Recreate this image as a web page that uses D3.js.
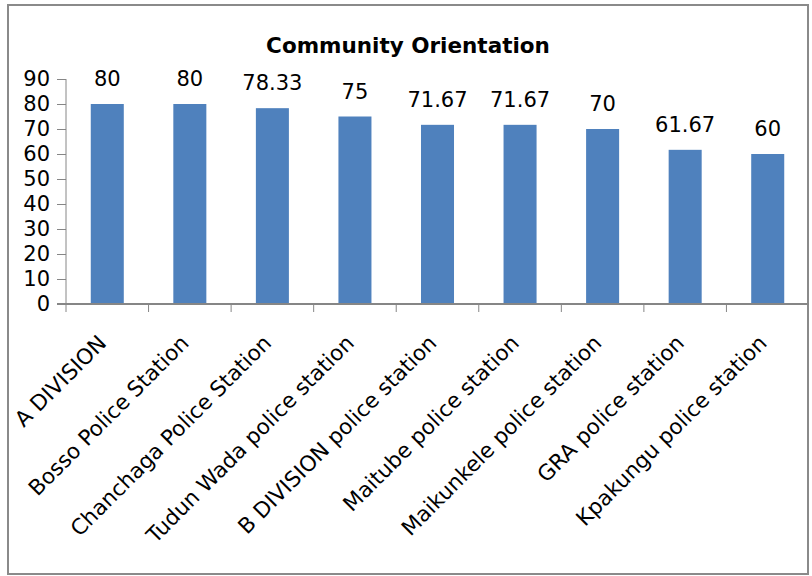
<!DOCTYPE html>
<html>
<head>
<meta charset="utf-8">
<script src="https://cdn.jsdelivr.net/npm/d3@7"></script>
<style>
  html, body { margin: 0; padding: 0; background: #fff; }
  svg { display: block; }
  text { font-family: "DejaVu Sans", sans-serif; fill: #000; }
</style>
</head>
<body>
<svg id="chart" width="812" height="576"></svg>
<script>
const categories = [
  "A DIVISION",
  "Bosso Police Station",
  "Chanchaga Police Station",
  "Tudun Wada police station",
  "B DIVISION police station",
  "Maitube police station",
  "Maikunkele police station",
  "GRA police station",
  "Kpakungu police station"
];
const values = [80, 80, 78.33, 75, 71.67, 71.67, 70, 61.67, 60];
const valueLabels = ["80", "80", "78.33", "75", "71.67", "71.67", "70", "61.67", "60"];
const yTicks = [0, 10, 20, 30, 40, 50, 60, 70, 80, 90];
const title = "Community Orientation";

const svg = d3.select("#chart");

// chart frame
svg.append("rect")
  .attr("x", 8).attr("y", 5)
  .attr("width", 800).attr("height", 569)
  .attr("fill", "#fff")
  .attr("stroke", "#8a8a8a")
  .attr("stroke-width", 2);

const plot = { left: 66, right: 809, top: 79, bottom: 304 };

const x = d3.scaleBand()
  .domain(categories)
  .range([plot.left, plot.right])
  .paddingInner(0.6)
  .paddingOuter(0.3);

const y = d3.scaleLinear()
  .domain([0, 90])
  .range([plot.bottom, plot.top]);

const axisColor = "#868686";

// title
svg.append("text")
  .attr("x", 408).attr("y", 53)
  .attr("text-anchor", "middle")
  .style("font-weight", "bold")
  .style("font-size", "21.5px")
  .text(title);

// bars
svg.append("g").selectAll("rect")
  .data(values)
  .join("rect")
  .attr("x", (d, i) => x(categories[i]))
  .attr("y", d => y(d))
  .attr("width", x.bandwidth())
  .attr("height", d => y(0) - y(d))
  .attr("fill", "#4F81BD");

// value labels
svg.append("g").selectAll("text")
  .data(values)
  .join("text")
  .attr("x", (d, i) => x(categories[i]) + x.bandwidth() / 2)
  .attr("y", d => y(d) - 18)
  .attr("text-anchor", "middle")
  .style("font-size", "21px")
  .text((d, i) => valueLabels[i]);

// y axis
const yAxis = d3.axisLeft(y)
  .tickValues(yTicks)
  .tickSize(9)
  .tickPadding(7)
  .tickFormat(d3.format("d"));
const yg = svg.append("g")
  .attr("transform", `translate(${plot.left},0)`)
  .call(yAxis);
yg.select(".domain").attr("stroke", axisColor).attr("d", `M0,${plot.top}V${plot.bottom}`);
yg.selectAll(".tick line").attr("stroke", axisColor);
yg.selectAll(".tick text")
  .style("font-family", "DejaVu Sans, sans-serif")
  .style("font-size", "21px")
  .attr("fill", "#000");

// x axis line
svg.append("line")
  .attr("x1", plot.left - 9).attr("x2", plot.right)
  .attr("y1", plot.bottom).attr("y2", plot.bottom)
  .attr("stroke", axisColor).attr("stroke-width", 2);

// x tick marks at band boundaries
const step = x.step();
const boundaries = categories.map(c => x(c) - (step - x.bandwidth()) / 2);
svg.append("g").selectAll("line")
  .data(boundaries)
  .join("line")
  .attr("x1", d => d).attr("x2", d => d)
  .attr("y1", plot.bottom).attr("y2", plot.bottom + 8)
  .attr("stroke", axisColor);

// category labels
svg.append("g").selectAll("text")
  .data(categories)
  .join("text")
  .attr("transform", d => `translate(${x(d) + x.bandwidth() / 2 - 5},${plot.bottom + 35}) rotate(-45)`)
  .attr("text-anchor", "end")
  .attr("dy", "0.35em")
  .style("font-size", "21.5px")
  .text(d => d);
</script>
</body>
</html>
